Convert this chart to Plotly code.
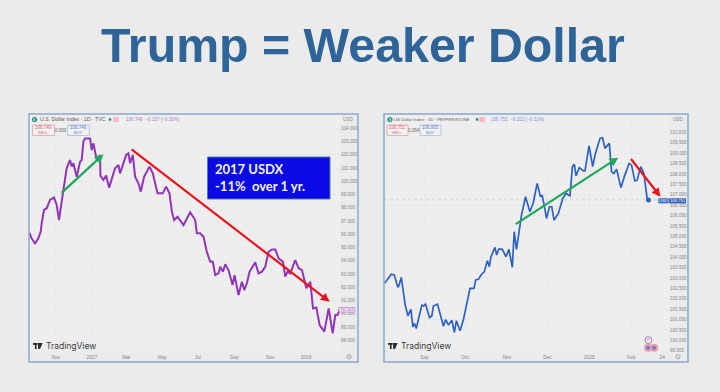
import pandas as pd
import plotly.graph_objects as go

TITLE = "Trump = Weaker Dollar"

# Left chart: days after 2016-11-01, and index value
left_origin = "2016-11-01"
left_days = [-45.5,-41.5,-35.8,-30.1,-26.1,-24.4,-20.4,-15.9,-10.2,-3.4,1.2,5.1,9.7,15.4,18.2,23.9,26.8,29.6,35.3,41,43.8,46.7,49.5,58,60.9,63.7,69.4,75.1,75.7,80.8,85.4,90.5,100.7,106.4,109.2,119.5,123.5,126.3,130.9,134.8,140.5,144.5,150.2,159.3,165,169,172.9,182,187.7,193.4,197.4,201.4,207.1,217.3,228.7,237.2,240,245.7,251.4,257,262.8,267.3,271.3,277,279.8,284.4,288.4,294,300.9,304.3,311.1,316.8,320.8,325.3,329.9,339.6,345.2,350.9,356.6,362.3,368,373.7,379.4,386.8,390.7,394.7,399.3,407.8,413.5,419.2,426.6,433.4,438,443.6,449.3,457.3,464.7,471.5,476,480,483.5]
left_vals = [96.12,95.69,95.31,95.69,96.19,96.83,97.84,97.96,98.59,98.77,98.21,97.08,98.46,100.10,100.98,101.61,101.11,101.36,100.35,101.48,101.61,103.0,103.24,103.24,102.36,102.87,101.61,101.99,100.43,100.1,100.43,99.52,100.98,101.23,100.6,101.99,102.11,101.36,101.99,100.35,99.85,99.22,100.35,101.11,100.6,99.85,99.09,99.09,99.6,99.09,97.71,97.08,97.33,96.7,97.66,97.08,96.07,96.07,95.82,94.68,93.93,93.93,92.92,93.05,93.55,93.18,93.73,93.3,92.17,92.92,91.41,92.42,91.79,92.3,93.18,93.88,93.05,93.18,93.55,94.68,94.86,94.86,94.18,93.93,92.8,93.18,93.05,94.06,93.43,93.3,91.92,92.42,90.41,90.48,89.15,88.65,90.41,88.52,89.9,89.9,90.36]
left_yticks = [88,89,90,91,92,93,94,95,96,97,98,99,100,101,102,103,104]
left_xticks = ["2016-11-01","2017-01-01","2017-03-01","2017-05-01","2017-07-01","2017-09-01","2017-11-01","2018-01-01"]
left_xlabels = ["Nov","2017","Mar","May","Jul","Sep","Nov","2018"]

# Right chart: days after 2024-09-01, and index value
right_origin = "2024-09-01"
right_days = [-29.5,-27.1,-24.6,-22.4,-19.9,-19.2,-17.2,-14.3,-12.3,-10.1,-8.6,-7.4,-6.1,-2,-.7,.7,3.7,5.4,6.6,9.6,11.6,12.3,14,15.7,17.7,20.2,22.1,23.6,26.3,28.8,31.2,33.7,36.6,37.9,39.9,41.8,44.3,46.5,48,49.2,52.2,53.4,55.1,57.6,60.3,62.5,65,66.4,68.1,70.1,71.8,74.8,76.3,78,80.4,83.4,85.9,87.1,89,90.3,92.5,94.2,95.9,99.1,102.3,104.8,107.7,109.5,110.9,112.2,114.6,117.6,118.8,121.8,124.5,126.2,129.9,131.8,133.6,136.8,138.5,140.2,142.2,145.4,148.3,151.5,153.3,155.7,157.4,160.1,162.4,164.8,165.8]
right_vals = [102.74,102.98,103.18,103.14,102.58,102.58,103.02,101.69,101.18,101.49,100.65,100.81,100.57,101.69,101.65,101.74,101.09,101.17,101.65,101.74,101.21,101.17,100.68,101,100.73,100.97,100.38,100.94,100.46,101,101.69,102.5,102.5,102.9,102.93,103.14,103.3,103.83,103.54,104.02,104.47,104.1,104.39,104.37,104.02,104.37,103.51,105.22,104.37,105.3,106.02,106.9,106.5,106.18,106.58,107.54,106.9,106.98,106.34,105.86,106.42,106.42,105.78,106.1,106.82,107.06,106.95,108.35,108.46,107.91,108.3,108.14,108.14,109.35,108.35,108.91,109.71,109.74,109.23,109.47,108.1,108.02,108.23,107.34,107.94,108.5,108.42,107.66,107.7,108.35,108.02,106.82,106.75]
right_yticks = [99.5,100,100.5,101,101.5,102,102.5,103,103.5,104,104.5,105,105.5,106,106.5,107,107.5,108,108.5,109,109.5,110]
right_xticks = ["2024-09-01","2024-10-01","2024-11-01","2024-12-01","2025-01-01","2025-02-01","2025-02-24"]
right_xlabels = ["Sep","Oct","Nov","Dec","2025","Feb","24"]
last_close = 106.751

event_days = [165.5, 170]
event_vals = [99.64, 99.64]
note_day = [165.8]
note_val = [100.01]

BG = "#ebebeb"; PANE = "#eeeeee"; GRID = "#e9e9e9"; FRAME = "#8aa8cc"
PURPLE = "#9234b8"; BLUE = "#2f62c0"; GREEN = "#1ea65a"; RED = "#e8141c"; TICK = "#858585"

def dates(origin, days):
    return pd.Timestamp(origin) + pd.to_timedelta(days, unit="D")

def one(origin, d):
    return (pd.Timestamp(origin) + pd.Timedelta(days=d)).strftime("%Y-%m-%d %H:%M")

W, H = 720, 392
px = lambda x: x / W
py = lambda y: 1 - y / H

fig = go.Figure()
fig.add_trace(go.Scatter(x=dates(left_origin, left_days), y=left_vals, mode="lines",
                         line=dict(color=PURPLE, width=2), xaxis="x", yaxis="y", hoverinfo="skip"))
fig.add_trace(go.Scatter(x=dates(right_origin, right_days), y=right_vals, mode="lines",
                         line=dict(color=BLUE, width=1.7), xaxis="x2", yaxis="y2", hoverinfo="skip"))
fig.add_trace(go.Scatter(x=dates(right_origin, right_days[-1:]), y=right_vals[-1:], mode="markers",
                         marker=dict(color=BLUE, size=5), xaxis="x2", yaxis="y2", hoverinfo="skip"))
fig.add_trace(go.Scatter(x=dates(right_origin, event_days), y=event_vals, mode="markers",
                         marker=dict(color="#5b86d8", size=6, line=dict(color="#f39aa6", width=2)),
                         xaxis="x2", yaxis="y2", hoverinfo="skip"))
fig.add_trace(go.Scatter(x=dates(right_origin, note_day), y=note_val, mode="markers+text",
                         marker=dict(color="#f3eef6", size=7, line=dict(color="#a77cc8", width=1)),
                         text=["P"], textposition="middle center", textfont=dict(size=4, color="#8a5cb0"),
                         xaxis="x2", yaxis="y2", hoverinfo="skip"))

def xax(dom, rng, vals, labels, anchor):
    return dict(domain=dom, range=rng, type="date", tickvals=vals, ticktext=labels, anchor=anchor,
                showgrid=True, gridcolor=GRID, gridwidth=1, zeroline=False, showline=False, ticks="",
                tickfont=dict(family="Liberation Sans", size=4.8, color=TICK), ticklabelstandoff=0)

def yax(dom, rng, vals, anchor):
    return dict(domain=dom, range=rng, tickvals=vals, tickformat=".3f", side="right", anchor=anchor,
                showgrid=True, gridcolor=GRID, gridwidth=1, zeroline=False, showline=False, ticks="",
                tickfont=dict(family="Liberation Sans", size=4.6, color=TICK))

fig.update_layout(
    width=W, height=H, margin=dict(l=0, r=0, t=0, b=0), paper_bgcolor=BG, plot_bgcolor=PANE, showlegend=False,
    xaxis=xax([px(29), px(340)], ["2016-09-16", "2018-02-28"], left_xticks, left_xlabels, "y"),
    yaxis=yax([py(353), py(114)], [87.04, 105.08], left_yticks, "x"),
    xaxis2=xax([px(384), px(669)], ["2024-08-02", "2025-03-01"], right_xticks, right_xlabels, "y2"),
    yaxis2=yax([py(353), py(114)], [99.39, 110.88], right_yticks, "x2"),
)

shapes = []
def rect(x0, y0, x1, y1, fill="rgba(0,0,0,0)", line=None, lw=1, layer="above"):
    shapes.append(dict(type="rect", xref="paper", yref="paper", x0=px(x0), x1=px(x1), y0=py(y0), y1=py(y1),
                       fillcolor=fill, line=dict(color=line or fill, width=lw if line else 0), layer=layer))
def circ(x, y, r, fill="rgba(0,0,0,0)", line=None, lw=1):
    shapes.append(dict(type="circle", xref="paper", yref="paper", x0=px(x-r), x1=px(x+r), y0=py(y-r), y1=py(y+r),
                       fillcolor=fill, line=dict(color=line or fill, width=lw if line else 0)))

# panel frames and last-close guide
rect(29, 114, 358, 362, line=FRAME, lw=1.5)
rect(384, 114, 688, 362, line=FRAME, lw=1.5)
shapes.append(dict(type="line", xref="x2", yref="y2", x0="2024-08-02", x1="2025-03-01", y0=last_close, y1=last_close,
                   line=dict(color="#c4c4c4", width=0.8, dash="dot"), layer="below"))

anns = []
def text(x, y, s, size=6, color="#5a5a5a", family="Liberation Sans", anchor="left"):
    anns.append(dict(xref="paper", yref="paper", x=px(x), y=py(y), text=s, showarrow=False, xanchor=anchor,
                     yanchor="middle", font=dict(size=size, color=color, family=family), borderpad=0))

def arrow(xr, yr, origin, d0, v0, d1, v1, color, width):
    anns.append(dict(xref=xr, yref=yr, axref=xr, ayref=yr, x=one(origin, d1), y=v1, ax=one(origin, d0), ay=v0, text="",
                     showarrow=True, arrowhead=2, arrowsize=0.8, arrowwidth=width, arrowcolor=color, standoff=0))

text(363, 45, "<b>" + TITLE + "</b>", size=48.3, color="#2f6498", family="Liberation Sans", anchor="center")

# headers
for (cx, name, nx, nsize, dx, bx, vx, vals, vc, sell, gap, gx, buy, s0, s1, b0, b1, ux) in [
    (34.5, "U.S. Dollar Index · 1D · TVC", 38.5, 5.2, 110, 116, 125, "106.749  −0.157 (−0.30%)", "#b27cc8", "106.749", "0.000", 61, "106.749", 32.5, 54.5, 67.7, 89.3, 342),
    (390, "US Dollar Index · 1D · PEPPERSTONE", 393.5, 4.3, 477, 482, 490, "106.751  −0.322 (−0.31%)", "#7f93d6", "106.751", "0.054", 414, "106.805", 387, 408, 420, 441, 672),
]:
    circ(cx, 119.5, 2.6, fill="#1d8f7a")
    text(cx, 119.5, "$", size=4, color="white", anchor="center")
    text(nx, 119.5, name, size=nsize, color="#5a5a5a")
    circ(dx, 119.5, 1.4, fill="#1d9e7a")
    rect(bx-2.7, 117, bx+2.7, 122, fill="#f6b7c0")
    text(vx, 119.5, vals, size=4.6, color=vc)
    rect(s0, 125, s1, 135.5, fill="rgba(255,255,255,0.25)", line="#eaa0a8", lw=0.8)
    text((s0+s1)/2, 128, sell, size=4.5, color="#d9606c", anchor="center")
    text((s0+s1)/2, 132.5, "SELL", size=4, color="#d9606c", anchor="center")
    text(gx, 130, gap, size=4.5, color="#666666", anchor="center")
    rect(b0, 125, b1, 135.5, fill="rgba(255,255,255,0.25)", line="#a6b9ea", lw=0.8)
    text((b0+b1)/2, 128, buy, size=4.5, color="#5a78cc", anchor="center")
    text((b0+b1)/2, 132.5, "BUY", size=4, color="#5a78cc", anchor="center")
    text(ux, 119.5, "USD", size=4.6, color="#858585")

# callout
rect(207.5, 157, 330, 199, fill="#0a0ae4", line="#4f7f9f", lw=1)
text(213.5, 169, "<b>2017 USDX</b>", size=13, color="#f2f2f2", family="Lato")
text(213.5, 186, "<b>-11%  over 1 yr.</b>", size=13, color="#f2f2f2", family="Lato")

# price tags
rect(339, 307.5, 355, 312, fill="#f4e8f8", line="#c48ad8", lw=0.8)
text(347, 309.8, "90.361", size=4.2, color="#b060d0", anchor="center")
rect(658.3, 198.3, 668.5, 203.3, fill=BLUE)
rect(669, 198.3, 686, 203.3, fill=BLUE)
text(663.4, 200.8, "USD", size=4.2, color="white", anchor="center")
text(677.5, 200.8, "106.751", size=4.2, color="white", anchor="center")

# gear icons
circ(349, 356.8, 2.2, fill="#d8d8d8", line="#9a9a9a", lw=0.7)
circ(678, 356.8, 2.2, fill="#d8d8d8", line="#9a9a9a", lw=0.7)

# TradingView marks
for x0 in [33, 388]:
    rect(x0, 343, x0+4.6, 344.8, fill="#2b2b2b")
    rect(x0+1.9, 343, x0+3.6, 349, fill="#2b2b2b")
    shapes.append(dict(type="path", xref="paper", yref="paper", fillcolor="#2b2b2b", line=dict(width=0),
                       path=f"M {px(x0+5)} {py(343)} L {px(x0+9.6)} {py(343)} L {px(x0+7)} {py(349)} L {px(x0+5.2)} {py(349)} Z"))
    text(x0+12, 345.8, "TradingView", size=8.5, color="#3a3a3a", family="Inter")

# trend arrows, in data coordinates
arrow("x", "y", left_origin, 6.9, 99.02, 80.8, 102.04, GREEN, 2.2)
arrow("x", "y", left_origin, 126.3, 102.49, 466.4, 90.91, RED, 2.2)
arrow("x2", "y2", right_origin, 66.4, 105.54, 143.4, 108.78, GREEN, 2.2)
arrow("x2", "y2", right_origin, 152, 108.79, 174.7, 106.90, RED, 2.2)

fig.update_layout(shapes=shapes, annotations=anns)
fig.write_html("out.html", config={"displayModeBar": False},
               post_script="document.body.style.margin='0';document.documentElement.style.background='#ebebeb';")
